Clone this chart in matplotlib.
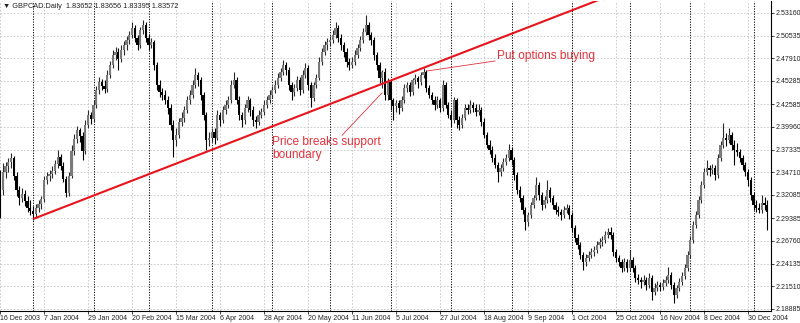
import matplotlib.pyplot as plt
import pandas as pd

# chart header and date axis
symbol_label = "\u25bc GBPCAD.Daily  1.83652 1.83656 1.83395 1.83572"
first_day = "2003-12-16"
label_every = 16

# daily OHLC (one value per trading day)
opens = [
    2.344, 2.327, 2.347, 2.354, 2.359, 2.364, 2.343, 2.327, 2.317, 2.322, 2.314, 2.306, 2.302, 2.299, 2.306, 2.310, 2.316, 2.338, 2.343, 2.345,
    2.349, 2.357, 2.365, 2.354, 2.339, 2.323, 2.343, 2.372, 2.386, 2.396, 2.389, 2.372, 2.402, 2.413, 2.409, 2.425, 2.442, 2.452, 2.447, 2.444,
    2.460, 2.471, 2.483, 2.486, 2.478, 2.489, 2.495, 2.500, 2.506, 2.514, 2.503, 2.495, 2.512, 2.518, 2.503, 2.495, 2.498, 2.471, 2.448, 2.440,
    2.437, 2.431, 2.422, 2.402, 2.385, 2.390, 2.405, 2.410, 2.419, 2.431, 2.437, 2.448, 2.460, 2.454, 2.437, 2.413, 2.385, 2.387, 2.394, 2.387,
    2.413, 2.408, 2.419, 2.425, 2.431, 2.448, 2.454, 2.431, 2.413, 2.408, 2.422, 2.431, 2.419, 2.408, 2.405, 2.413, 2.417, 2.425, 2.431, 2.437,
    2.442, 2.448, 2.456, 2.463, 2.471, 2.466, 2.448, 2.440, 2.445, 2.454, 2.442, 2.460, 2.468, 2.448, 2.433, 2.448, 2.456, 2.475, 2.486, 2.495,
    2.498, 2.500, 2.506, 2.514, 2.503, 2.495, 2.486, 2.475, 2.471, 2.475, 2.483, 2.491, 2.500, 2.510, 2.518, 2.506, 2.500, 2.483, 2.471, 2.456,
    2.463, 2.437, 2.452, 2.431, 2.424, 2.427, 2.422, 2.431, 2.445, 2.448, 2.440, 2.454, 2.456, 2.452, 2.460, 2.463, 2.445, 2.437, 2.431, 2.425,
    2.431, 2.422, 2.448, 2.425, 2.413, 2.408, 2.431, 2.408, 2.402, 2.410, 2.422, 2.419, 2.425, 2.422, 2.417, 2.419, 2.405, 2.390, 2.379, 2.373,
    2.364, 2.356, 2.347, 2.352, 2.359, 2.364, 2.373, 2.361, 2.344, 2.327, 2.317, 2.303, 2.290, 2.298, 2.309, 2.317, 2.332, 2.321, 2.309, 2.315,
    2.327, 2.317, 2.309, 2.303, 2.301, 2.298, 2.303, 2.306, 2.298, 2.283, 2.271, 2.263, 2.251, 2.243, 2.248, 2.251, 2.255, 2.257, 2.263, 2.266,
    2.269, 2.274, 2.278, 2.274, 2.255, 2.248, 2.243, 2.236, 2.243, 2.236, 2.246, 2.236, 2.225, 2.222, 2.220, 2.222, 2.217, 2.225, 2.208, 2.213,
    2.217, 2.214, 2.219, 2.222, 2.228, 2.217, 2.205, 2.213, 2.220, 2.227, 2.236, 2.251, 2.269, 2.286, 2.298, 2.315, 2.332, 2.347, 2.352, 2.350,
    2.352, 2.344, 2.364, 2.379, 2.387, 2.385, 2.390, 2.379, 2.373, 2.371, 2.364, 2.356, 2.347, 2.338, 2.321, 2.309, 2.306, 2.303, 2.312, 2.309,
]
highs = [
    2.350, 2.358, 2.359, 2.364, 2.369, 2.366, 2.347, 2.331, 2.329, 2.327, 2.320, 2.315, 2.308, 2.310, 2.315, 2.320, 2.343, 2.347, 2.350, 2.354,
    2.361, 2.373, 2.368, 2.359, 2.343, 2.347, 2.379, 2.391, 2.401, 2.398, 2.394, 2.408, 2.419, 2.417, 2.431, 2.447, 2.457, 2.455, 2.454, 2.466,
    2.476, 2.489, 2.492, 2.491, 2.495, 2.499, 2.505, 2.511, 2.521, 2.518, 2.506, 2.515, 2.523, 2.521, 2.507, 2.503, 2.500, 2.475, 2.454, 2.445,
    2.442, 2.435, 2.426, 2.408, 2.398, 2.410, 2.417, 2.424, 2.435, 2.442, 2.454, 2.468, 2.463, 2.457, 2.440, 2.417, 2.394, 2.398, 2.398, 2.419,
    2.417, 2.424, 2.431, 2.435, 2.454, 2.463, 2.457, 2.435, 2.417, 2.426, 2.435, 2.433, 2.424, 2.412, 2.419, 2.422, 2.431, 2.435, 2.442, 2.447,
    2.454, 2.462, 2.468, 2.477, 2.475, 2.469, 2.452, 2.449, 2.459, 2.457, 2.466, 2.474, 2.471, 2.452, 2.452, 2.461, 2.481, 2.491, 2.499, 2.503,
    2.505, 2.512, 2.521, 2.518, 2.507, 2.498, 2.491, 2.479, 2.481, 2.489, 2.496, 2.505, 2.514, 2.529, 2.521, 2.510, 2.504, 2.486, 2.475, 2.466,
    2.468, 2.456, 2.454, 2.433, 2.431, 2.431, 2.435, 2.449, 2.452, 2.452, 2.456, 2.461, 2.459, 2.463, 2.468, 2.466, 2.448, 2.440, 2.435, 2.435,
    2.433, 2.454, 2.452, 2.428, 2.419, 2.434, 2.433, 2.412, 2.415, 2.426, 2.426, 2.431, 2.428, 2.426, 2.426, 2.423, 2.410, 2.394, 2.385, 2.378,
    2.368, 2.359, 2.357, 2.364, 2.368, 2.380, 2.376, 2.365, 2.347, 2.331, 2.321, 2.307, 2.301, 2.313, 2.321, 2.342, 2.336, 2.324, 2.320, 2.338,
    2.330, 2.321, 2.313, 2.308, 2.305, 2.308, 2.310, 2.309, 2.301, 2.286, 2.276, 2.266, 2.255, 2.252, 2.256, 2.259, 2.262, 2.268, 2.271, 2.273,
    2.279, 2.283, 2.284, 2.278, 2.258, 2.251, 2.247, 2.248, 2.247, 2.257, 2.249, 2.240, 2.229, 2.226, 2.228, 2.226, 2.231, 2.228, 2.219, 2.221,
    2.220, 2.224, 2.227, 2.237, 2.232, 2.220, 2.217, 2.225, 2.232, 2.241, 2.256, 2.273, 2.291, 2.302, 2.320, 2.337, 2.352, 2.361, 2.356, 2.357,
    2.356, 2.368, 2.383, 2.404, 2.393, 2.398, 2.394, 2.385, 2.381, 2.374, 2.367, 2.359, 2.351, 2.342, 2.324, 2.315, 2.312, 2.321, 2.318, 2.315,
]
lows = [
    2.294, 2.321, 2.341, 2.347, 2.352, 2.338, 2.320, 2.309, 2.313, 2.308, 2.301, 2.298, 2.292, 2.294, 2.301, 2.305, 2.313, 2.334, 2.337, 2.341,
    2.345, 2.352, 2.350, 2.336, 2.318, 2.320, 2.341, 2.367, 2.381, 2.382, 2.361, 2.368, 2.398, 2.403, 2.405, 2.422, 2.438, 2.442, 2.439, 2.440,
    2.456, 2.468, 2.477, 2.466, 2.475, 2.483, 2.489, 2.496, 2.503, 2.498, 2.489, 2.491, 2.507, 2.498, 2.489, 2.491, 2.466, 2.442, 2.434, 2.431,
    2.426, 2.415, 2.396, 2.365, 2.378, 2.387, 2.401, 2.405, 2.416, 2.426, 2.433, 2.445, 2.447, 2.431, 2.408, 2.373, 2.378, 2.382, 2.380, 2.385,
    2.401, 2.404, 2.415, 2.422, 2.427, 2.445, 2.426, 2.408, 2.400, 2.403, 2.417, 2.412, 2.401, 2.398, 2.402, 2.410, 2.413, 2.422, 2.427, 2.433,
    2.439, 2.445, 2.453, 2.460, 2.460, 2.442, 2.431, 2.435, 2.441, 2.437, 2.439, 2.456, 2.442, 2.423, 2.430, 2.445, 2.454, 2.471, 2.483, 2.489,
    2.493, 2.497, 2.503, 2.498, 2.489, 2.481, 2.469, 2.466, 2.468, 2.471, 2.479, 2.488, 2.497, 2.506, 2.500, 2.495, 2.477, 2.466, 2.451, 2.445,
    2.431, 2.431, 2.419, 2.408, 2.417, 2.415, 2.418, 2.427, 2.440, 2.435, 2.437, 2.449, 2.445, 2.448, 2.456, 2.440, 2.433, 2.426, 2.419, 2.422,
    2.417, 2.418, 2.422, 2.410, 2.400, 2.404, 2.398, 2.396, 2.398, 2.408, 2.415, 2.416, 2.417, 2.412, 2.413, 2.401, 2.387, 2.375, 2.368, 2.359,
    2.352, 2.336, 2.343, 2.349, 2.356, 2.360, 2.356, 2.338, 2.322, 2.313, 2.299, 2.280, 2.285, 2.294, 2.306, 2.315, 2.315, 2.303, 2.306, 2.312,
    2.313, 2.305, 2.299, 2.296, 2.292, 2.294, 2.300, 2.293, 2.278, 2.266, 2.258, 2.247, 2.234, 2.239, 2.244, 2.248, 2.250, 2.254, 2.259, 2.262,
    2.265, 2.271, 2.270, 2.250, 2.243, 2.239, 2.232, 2.233, 2.232, 2.233, 2.232, 2.220, 2.218, 2.213, 2.217, 2.211, 2.213, 2.199, 2.205, 2.210,
    2.210, 2.211, 2.215, 2.219, 2.212, 2.196, 2.202, 2.210, 2.217, 2.224, 2.233, 2.248, 2.265, 2.283, 2.294, 2.312, 2.329, 2.344, 2.343, 2.345,
    2.338, 2.341, 2.360, 2.375, 2.378, 2.381, 2.373, 2.356, 2.366, 2.359, 2.350, 2.343, 2.331, 2.315, 2.303, 2.301, 2.300, 2.300, 2.303, 2.280,
]
closes = [
    2.327, 2.347, 2.354, 2.359, 2.364, 2.343, 2.327, 2.317, 2.322, 2.314, 2.306, 2.302, 2.299, 2.306, 2.310, 2.316, 2.338, 2.343, 2.345, 2.349,
    2.357, 2.365, 2.354, 2.339, 2.323, 2.343, 2.372, 2.386, 2.396, 2.389, 2.372, 2.402, 2.413, 2.409, 2.425, 2.442, 2.452, 2.447, 2.444, 2.460,
    2.471, 2.483, 2.486, 2.478, 2.489, 2.495, 2.500, 2.506, 2.514, 2.503, 2.495, 2.512, 2.518, 2.503, 2.495, 2.498, 2.471, 2.448, 2.440, 2.437,
    2.431, 2.422, 2.402, 2.385, 2.390, 2.405, 2.410, 2.419, 2.431, 2.437, 2.448, 2.460, 2.454, 2.437, 2.413, 2.385, 2.387, 2.394, 2.387, 2.413,
    2.408, 2.419, 2.425, 2.431, 2.448, 2.454, 2.431, 2.413, 2.408, 2.422, 2.431, 2.419, 2.408, 2.405, 2.413, 2.417, 2.425, 2.431, 2.437, 2.442,
    2.448, 2.456, 2.463, 2.471, 2.466, 2.448, 2.440, 2.445, 2.454, 2.442, 2.460, 2.468, 2.448, 2.433, 2.448, 2.456, 2.475, 2.486, 2.495, 2.498,
    2.500, 2.506, 2.514, 2.503, 2.495, 2.486, 2.475, 2.471, 2.475, 2.483, 2.491, 2.500, 2.510, 2.518, 2.506, 2.500, 2.483, 2.471, 2.456, 2.463,
    2.437, 2.452, 2.431, 2.424, 2.427, 2.422, 2.431, 2.445, 2.448, 2.440, 2.454, 2.456, 2.452, 2.460, 2.463, 2.445, 2.437, 2.431, 2.425, 2.431,
    2.422, 2.448, 2.425, 2.413, 2.408, 2.431, 2.408, 2.402, 2.410, 2.422, 2.419, 2.425, 2.422, 2.417, 2.419, 2.405, 2.390, 2.379, 2.373, 2.364,
    2.356, 2.347, 2.352, 2.359, 2.364, 2.373, 2.361, 2.344, 2.327, 2.317, 2.303, 2.290, 2.298, 2.309, 2.317, 2.332, 2.321, 2.309, 2.315, 2.327,
    2.317, 2.309, 2.303, 2.301, 2.298, 2.303, 2.306, 2.298, 2.283, 2.271, 2.263, 2.251, 2.243, 2.248, 2.251, 2.255, 2.257, 2.263, 2.266, 2.269,
    2.274, 2.278, 2.274, 2.255, 2.248, 2.243, 2.236, 2.243, 2.236, 2.246, 2.236, 2.225, 2.222, 2.220, 2.222, 2.217, 2.225, 2.208, 2.213, 2.217,
    2.214, 2.219, 2.222, 2.228, 2.217, 2.205, 2.213, 2.220, 2.227, 2.236, 2.251, 2.269, 2.286, 2.298, 2.315, 2.332, 2.347, 2.352, 2.350, 2.352,
    2.344, 2.364, 2.379, 2.387, 2.385, 2.390, 2.379, 2.373, 2.371, 2.364, 2.356, 2.347, 2.338, 2.321, 2.309, 2.306, 2.303, 2.312, 2.309, 2.301,
]

# price scale on the right
price_ticks = [2.53160, 2.50535, 2.47910, 2.45285, 2.42585, 2.39960, 2.37335,
               2.34710, 2.32085, 2.29385, 2.26760, 2.24135, 2.21510, 2.18885]

# support line (bar index, price) and notes
trend_start = (12, 2.293)
trend_end = (218, 2.547)
put_text = "Put options buying"
put_pos = (180.8, 2.4818)
put_pointer = [(155.3, 2.4644), (180.0, 2.4760)]
break_text = "Price breaks support\nboundary"
break_pos = (98.9, 2.389)
break_pointer = [(124.4, 2.390), (138.9, 2.439)]

plt.rcParams['font.family'] = ['Liberation Sans', 'DejaVu Sans']

dates = pd.bdate_range(first_day, periods=len(closes))
x = list(range(len(closes)))

fig = plt.figure(figsize=(8, 3.23), dpi=100)
ax = fig.add_axes([0, 12 / 323, 771 / 800, 310 / 323])

# month separators
for i in range(1, len(dates)):
    if dates[i].month != dates[i - 1].month:
        ax.axvline(i, color='black', linestyle=(0, (1.2, 1.5)), linewidth=0.7, zorder=1)

# candles
bull = [c >= o for o, c in zip(opens, closes)]
body_colors = ['#7a7a7a' if b else 'black' for b in bull]
wick_colors = ['#2a2a2a' if b else 'black' for b in bull]
bottoms = [min(o, c) for o, c in zip(opens, closes)]
heights = [max(abs(c - o), 0.0012) for o, c in zip(opens, closes)]
ax.vlines(x, lows, highs, colors=wick_colors, linewidth=0.8, zorder=2)
ax.bar(x, heights, bottom=bottoms, width=0.78, color=body_colors, linewidth=0, zorder=3)

# trend line and notes
note_color = '#e2333d'
ax.plot([trend_start[0], trend_end[0]], [trend_start[1], trend_end[1]],
        color='#e8141c', linewidth=1.5, solid_capstyle='butt', zorder=4)
ax.plot([p[0] for p in put_pointer], [p[1] for p in put_pointer], color=note_color, linewidth=0.6, zorder=4)
ax.plot([p[0] for p in break_pointer], [p[1] for p in break_pointer], color=note_color, linewidth=0.6, zorder=4)
ax.text(put_pos[0], put_pos[1], put_text, color=note_color, fontsize=8.6,
        ha='left', va='center', zorder=5)
ax.text(break_pos[0], break_pos[1], break_text, color=note_color, fontsize=8.6,
        ha='left', va='top', linespacing=1.15, zorder=5)

# axes
ax.set_xlim(0, 771 / 2.75)
ax.set_ylim(2.5466 - 0.0011579 * 311, 2.5466 - 0.0011579 * 1)

tick_pos = list(range(0, len(x), label_every))
ax.set_xticks(tick_pos)
ax.set_xticklabels([f"{dates[i].day} {dates[i]:%b %Y}" for i in tick_pos])
for lbl in ax.get_xticklabels():
    lbl.set_horizontalalignment('left')

ax.yaxis.tick_right()
ax.set_yticks(price_ticks)
ax.set_yticklabels([f"{v:.5f}" for v in price_ticks])

ax.tick_params(axis='x', length=2, width=0.6, pad=1, labelsize=5.0, colors='#222222')
ax.tick_params(axis='y', length=2, width=0.6, pad=1, labelsize=5.0, colors='#222222')

ax.grid(True, color='#c4c4c4', linestyle=(0, (2, 2)), linewidth=0.6, zorder=0)
ax.set_axisbelow(True)

for side in ['top', 'left']:
    ax.spines[side].set_visible(False)
for side in ['right', 'bottom']:
    ax.spines[side].set_linewidth(0.8)

fig.text(3 / 800, 1 - 6 / 323, symbol_label, fontsize=5.3, color='#222222',
         ha='left', va='center')

fig.savefig('out.png', dpi=100)
